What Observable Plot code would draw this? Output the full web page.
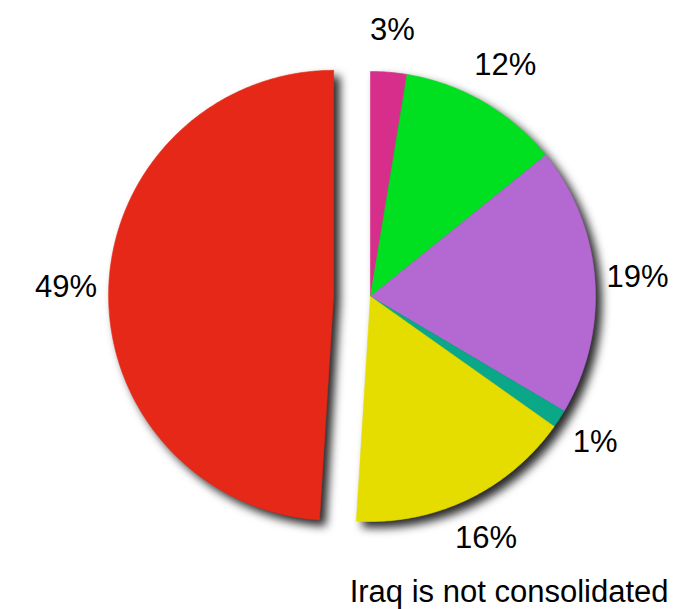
<!DOCTYPE html>
<html><head><meta charset="utf-8">
<script src="https://cdn.jsdelivr.net/npm/d3@7"></script>
<script src="https://cdn.jsdelivr.net/npm/@observablehq/plot@0.6"></script>
<style>
body{margin:0;background:#fff;}
svg{font-family:"Liberation Sans",Arial,sans-serif;}
</style>
</head><body><div id="chart"></div>
<script>
// ---- data ----
const categories = ["Slice 1", "Slice 2", "Slice 3", "Slice 4", "Slice 5", "Slice 6"];
const values = [2.6, 11.6, 19.3, 1.3, 16.2, 49.0];
const labels = ["3%", "12%", "19%", "1%", "16%", "49%"];
const colors = ["#D62E8A", "#00E020", "#B469D2", "#0AA888", "#E6DD00", "#E52817"];
const exploded = [false, false, false, false, false, true];
const caption = "Iraq is not consolidated";

// ---- layout ----
const W = 692, H = 609;
const cx = 370, cy = 296, R = 225;
const explodeDist = 0.164, labelR = 1.19;

const arcs = d3.pie().sort(null).value(d => d)(values);
const pts = [];
const lbl = [];
arcs.forEach((a, i) => {
  const mid = (a.startAngle + a.endAngle) / 2;
  const off = exploded[i] ? explodeDist : 0;
  const ox = off * Math.sin(mid), oy = -off * Math.cos(mid);
  pts.push({slice: categories[i], x: ox, y: oy});
  const n = Math.max(4, Math.ceil((a.endAngle - a.startAngle) / 0.01));
  for (let k = 0; k <= n; k++) {
    const t = a.startAngle + (a.endAngle - a.startAngle) * k / n;
    pts.push({slice: categories[i], x: ox + Math.sin(t), y: oy - Math.cos(t)});
  }
  pts.push({slice: categories[i], x: ox, y: oy});
  lbl.push({text: labels[i], x: ox + labelR * Math.sin(mid), y: oy - labelR * Math.cos(mid)});
});

const chart = Plot.plot({
  width: W, height: H,
  margin: 0,
  x: {domain: [-cx / R, (W - cx) / R], range: [0, W], axis: null},
  y: {domain: [-cy / R, (H - cy) / R], range: [0, H], axis: null},
  color: {domain: categories, range: colors},
  marks: [
    Plot.line(pts, {x: "x", y: "y", z: "slice", fill: "slice", stroke: "slice", strokeWidth: 0.6, curve: "linear"}),
    Plot.text(lbl, {x: "x", y: "y", text: "text", fontSize: 31, fill: "black", textAnchor: "middle", lineAnchor: "middle"}),
    Plot.text([caption], {frameAnchor: "bottom-right", dx: -24, dy: -8, fontSize: 31, fill: "black", textAnchor: "end", lineAnchor: "bottom"})
  ]
});
chart.querySelectorAll('g[aria-label="line"]').forEach(g => {
  g.style.filter = "drop-shadow(6px 6px 5px rgba(0,0,0,0.85))";
});
document.getElementById("chart").appendChild(chart);
</script>
</body></html>
